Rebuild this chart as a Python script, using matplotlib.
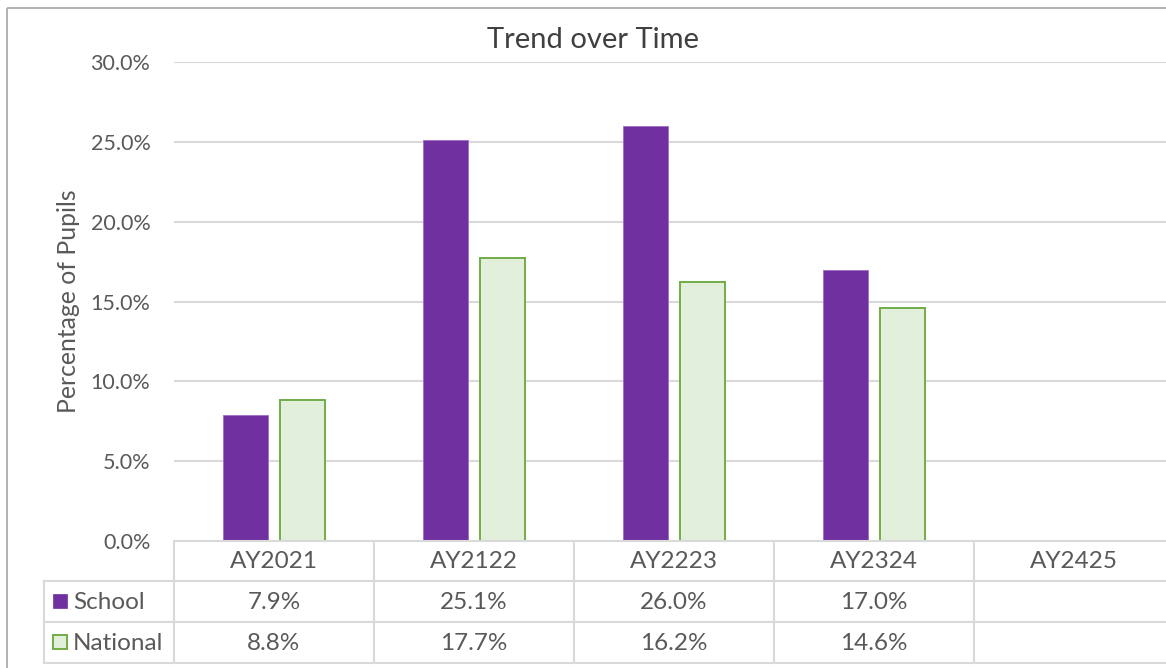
import matplotlib
matplotlib.use("Agg")
import matplotlib.pyplot as plt
from matplotlib.patches import Rectangle
from matplotlib.lines import Line2D

categories = ["AY2021", "AY2122", "AY2223", "AY2324", "AY2425"]
school = [7.9, 25.1, 26.0, 17.0, None]
national = [8.8, 17.7, 16.2, 14.6, None]
series_names = ["School", "National"]
title = "Trend over Time"
ylabel = "Percentage of Pupils"

W, H = 1166, 668
DPI = 100
plt.rcParams['font.family'] = ['Lato', 'DejaVu Sans']
TXT = "#595959"
GRID = "#D9D9D9"
PURPLE = "#7030A0"
GFILL = "#E2EFDA"
GEDGE = "#70AD47"

fig = plt.figure(figsize=(W / DPI, H / DPI), dpi=DPI)

# main axes: x 174..1174 px, y 62..541 px (top-down)
x0, x1, ytop, ybot = 174, 1174, 62, 541
ax = fig.add_axes([x0 / W, 1 - ybot / H, (x1 - x0) / W, (ybot - ytop) / H])
ax.set_xlim(-0.5, len(categories) - 0.5)
ax.set_ylim(0, 30)
ax.set_yticks([0, 5, 10, 15, 20, 25, 30])
ax.set_yticklabels([f"{v:.1f}%" for v in [0, 5, 10, 15, 20, 25, 30]],
                   fontsize=15.5, color=TXT)
ax.tick_params(axis='y', length=0, pad=17)
ax.set_xticks([])
for s in ax.spines.values():
    s.set_visible(False)
ax.yaxis.grid(True, color=GRID, linewidth=1.5)
ax.set_axisbelow(True)

bw = 0.225
off = 0.142
for i, (s, n) in enumerate(zip(school, national)):
    if s is not None:
        ax.bar(i - off, s, width=bw, color=PURPLE, edgecolor="#9D6BC4", linewidth=0.6, zorder=3)
    if n is not None:
        ax.bar(i + off, n, width=bw, color=GFILL, edgecolor=GEDGE, linewidth=1.4, zorder=3)

fig.text(68 / W, 1 - 301 / H, ylabel, rotation=90, ha='center', va='center', fontsize=17.8, color=TXT)
fig.text(593 / W, 1 - 40 / H, title, ha='center', va='center', fontsize=21, color="#404040")

# overlay axes in pixel coordinates for table and border
ov = fig.add_axes([0, 0, 1, 1])
ov.set_xlim(0, W)
ov.set_ylim(H, 0)
ov.axis('off')
ov.patch.set_alpha(0)

# outer border
ov.add_patch(Rectangle((6.5, 7.5), W + 20, H + 20, fill=False, edgecolor="#A6A6A6", linewidth=1.2))

fig.canvas.draw()
def colx(i):
    return ax.transData.transform((i, 0))[0]

bounds = [colx(i - 0.5) for i in range(len(categories) + 1)]
r0, r1, r2, r3 = 541, 581, 622, 663
tleft = 44
lw = 1.5
ov.add_line(Line2D([bounds[0], bounds[-1]], [r0, r0], color=GRID, lw=lw))
for r in (r1, r2, r3):
    ov.add_line(Line2D([tleft, bounds[-1]], [r, r], color=GRID, lw=lw))
ov.add_line(Line2D([tleft, tleft], [r1, r3], color=GRID, lw=lw))
for b in bounds:
    ov.add_line(Line2D([b, b], [r0, r3], color=GRID, lw=lw))

fs = 17.5
for i, c in enumerate(categories):
    cx = (bounds[i] + bounds[i + 1]) / 2
    ov.text(cx, (r0 + r1) / 2 + 1, c, ha='center', va='center', fontsize=fs, color=TXT)
    if school[i] is not None:
        ov.text(cx, (r1 + r2) / 2 + 1, f"{school[i]:.1f}%", ha='center', va='center', fontsize=fs, color=TXT)
    if national[i] is not None:
        ov.text(cx, (r2 + r3) / 2 + 1, f"{national[i]:.1f}%", ha='center', va='center', fontsize=fs, color=TXT)

ov.add_patch(Rectangle((53, 594), 14, 14, facecolor=PURPLE, edgecolor=PURPLE, lw=0.5))
ov.add_patch(Rectangle((53, 635), 14, 14, facecolor=GFILL, edgecolor=GEDGE, lw=1.4))
ov.text(73, (r1 + r2) / 2 + 1, series_names[0], ha='left', va='center', fontsize=fs, color=TXT)
ov.text(73, (r2 + r3) / 2 + 1, series_names[1], ha='left', va='center', fontsize=fs, color=TXT)

fig.savefig("out.png", dpi=DPI, facecolor="white")
